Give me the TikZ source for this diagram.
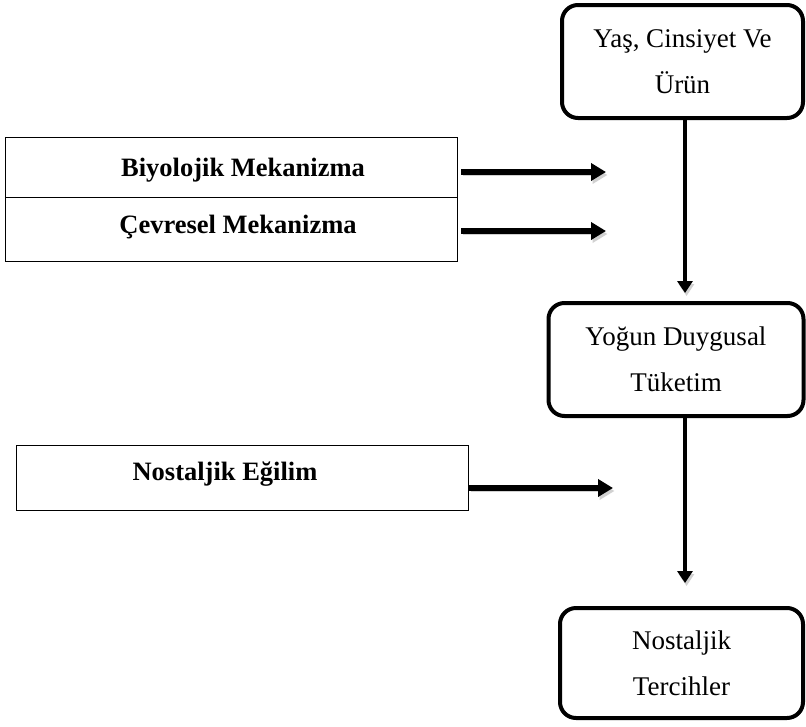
\documentclass[tikz,border=0pt]{standalone}
\usepackage{fontspec}
\setmainfont{Liberation Serif}
\usetikzlibrary{arrows.meta}
\begin{document}
\begin{tikzpicture}[x=1pt,y=-1pt]
\tikzset{
  rbox/.style={draw, line width=4pt, rounded corners=16pt, align=center, inner sep=0pt,
    font=\fontsize{27}{46}\selectfont},
  sbox/.style={draw, line width=1.2pt, inner sep=0pt, anchor=north west},
  btxt/.style={font=\bfseries\fontsize{26.5}{30}\selectfont, inner sep=0pt},
  shade/.style={preaction={draw=black!18, transform canvas={shift={(1.5pt,-3pt)}}}},
  harrow/.style={shade, line width=6pt, -{Triangle[length=15pt,width=17pt]}},
  varrow/.style={shade, line width=4.5pt, -{Triangle[length=12pt,width=15pt]}}
}
\useasboundingbox (0,0) rectangle (806,726);
% rounded boxes
\node[rbox, minimum width=241pt, minimum height=113pt] (yas) at (682.5,61.5) {Yaş, Cinsiyet Ve\\Ürün};
\node[rbox, minimum width=255pt, minimum height=113pt] (yog) at (676,359.5) {Yoğun Duygusal\\Tüketim};
\node[rbox, minimum width=243pt, minimum height=110pt] (ter) at (681.5,663) {Nostaljik\\Tercihler};
% rectangle boxes
\node[sbox, minimum width=452pt, minimum height=60pt] (bio) at (5,137) {};
\node[sbox, minimum width=452pt, minimum height=64pt] (cev) at (5,197) {};
\node[sbox, minimum width=452pt, minimum height=65pt] (nos) at (16,445) {};
\node[btxt] (biot) at (243,170) {Biyolojik Mekanizma};
\node[btxt] (cevt) at (238,227) {Çevresel Mekanizma};
\node[btxt] (nost) at (225,474) {Nostaljik Eğilim};
% arrow end points
\coordinate (h1s) at (461,172);
\coordinate (h1e) at (606,172);
\coordinate (h2s) at (461,231);
\coordinate (h2e) at (606,231);
\coordinate (h3s) at (469,488);
\coordinate (h3e) at (613,488);
\coordinate (v1e) at (685,293);
\coordinate (v2e) at (685,583);
\draw[harrow] (h1s) -- (h1e);
\draw[harrow] (h2s) -- (h2e);
\draw[harrow] (h3s) -- (h3e);
\draw[varrow] (yas.south -| v1e) -- (v1e);
\draw[varrow] (yog.south -| v2e) -- (v2e);
\end{tikzpicture}
\end{document}
